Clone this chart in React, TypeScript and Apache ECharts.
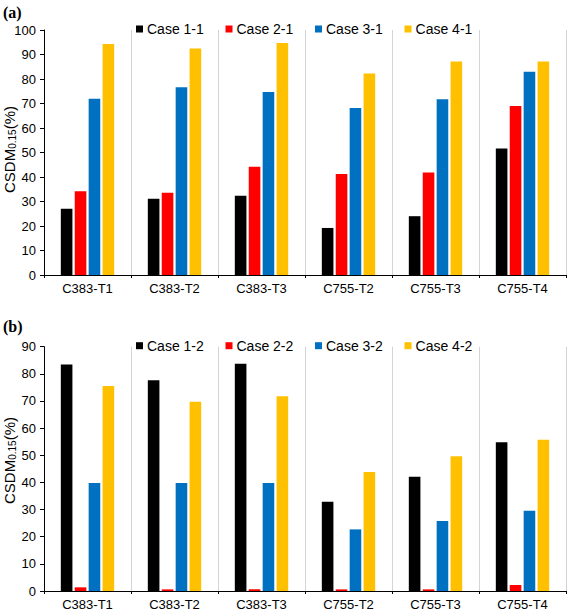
import React, { useEffect, useRef } from "react";
import * as echarts from "echarts";

const categories = ["C383-T1", "C383-T2", "C383-T3", "C755-T2", "C755-T3", "C755-T4"];

const seriesNamesA = ["Case 1-1", "Case 2-1", "Case 3-1", "Case 4-1"];
const case11 = [27.0, 31.1, 32.3, 19.2, 24.0, 51.6];
const case21 = [34.2, 33.6, 44.2, 41.2, 41.8, 69.0];
const case31 = [71.9, 76.6, 74.7, 68.2, 71.7, 83.0];
const case41 = [94.3, 92.4, 94.7, 82.2, 87.1, 87.1];

const seriesNamesB = ["Case 1-2", "Case 2-2", "Case 3-2", "Case 4-2"];
const case12 = [83.4, 77.6, 83.7, 32.9, 42.1, 54.8];
const case22 = [1.35, 0.6, 0.6, 0.6, 0.6, 2.2];
const case32 = [39.8, 39.8, 39.8, 22.7, 25.8, 29.6];
const case42 = [75.5, 69.7, 71.7, 43.8, 49.6, 55.7];

const colors = ["#000000", "#FF0000", "#0070C0", "#FFC000"];
const SANS = "'Liberation Sans', Arial, sans-serif";
const SERIF = "'Liberation Serif', 'Times New Roman', serif";

export default function App() {
  const ref = useRef<HTMLDivElement>(null);
  useEffect(() => {
    if (!ref.current) return;
    const chart = echarts.init(ref.current, null, { renderer: "svg" });
    const dataA = [case11, case21, case31, case41];
    const dataB = [case12, case22, case32, case42];

    const mkX = (gridIndex: number) => ({
      type: "category",
      gridIndex,
      data: categories,
      boundaryGap: true,
      axisLine: { lineStyle: { color: "#000", width: 1 } },
      axisTick: { show: true, length: 3, lineStyle: { color: "#000" } },
      axisLabel: { color: "#000", fontSize: 13, fontFamily: SANS, margin: 7 },
      splitLine: { show: true, lineStyle: { color: "#d4d4d4", width: 1 } },
    });
    const mkY = (gridIndex: number, max: number) => ({
      type: "value",
      gridIndex,
      min: 0,
      max,
      interval: 10,
      axisLine: { show: true, lineStyle: { color: "#000", width: 1 } },
      axisTick: { show: true, length: 4, lineStyle: { color: "#000" } },
      axisLabel: { color: "#000", fontSize: 13, fontFamily: SANS, margin: 8 },
      splitLine: { show: false },
    });
    const mkSeries = (names: string[], data: number[][], idx: number) =>
      names.map((n, i) => ({
        name: n,
        type: "bar",
        xAxisIndex: idx,
        yAxisIndex: idx,
        data: data[i],
        barWidth: 11.6,
        barGap: "20%",
        itemStyle: { color: colors[i] },
      }));
    const mkLegend = (names: string[], top: number) => ({
      data: names,
      left: 136,
      top,
      padding: 0,
      itemWidth: 7,
      itemHeight: 7,
      itemGap: 21.7,
      icon: "rect",
      textStyle: { color: "#000", fontSize: 14, fontFamily: SANS, padding: [0, 0, 0, -1] },
    });
    const yName = (y: number) => ({
      type: "text",
      x: 9,
      y,
      rotation: Math.PI / 2,
      style: {
        text: "{a|CSDM}{s|0.15}{a|(%)}",
        align: "center",
        verticalAlign: "middle",
        rich: {
          a: { fontSize: 15, fontFamily: SANS, fill: "#000", verticalAlign: "middle" },
          s: { fontSize: 10, fontFamily: SANS, fill: "#000", verticalAlign: "bottom", padding: [6, 0, 0, 0] },
        },
      },
    });

    chart.setOption({
      animation: false,
      color: colors,
      grid: [
        { left: 44, top: 30, width: 522, height: 245 },
        { left: 44, top: 346.7, width: 522, height: 244.3 },
      ],
      legend: [mkLegend(seriesNamesA, 22), mkLegend(seriesNamesB, 338.7)],
      xAxis: [mkX(0), mkX(1)],
      yAxis: [mkY(0, 100), mkY(1, 90)],
      series: [...mkSeries(seriesNamesA, dataA, 0), ...mkSeries(seriesNamesB, dataB, 1)],
      graphic: [
        { type: "text", left: 3, top: 4, style: { text: "(a)", font: `bold 16px ${SERIF}`, fill: "#000" } },
        { type: "text", left: 3, top: 318, style: { text: "(b)", font: `bold 16px ${SERIF}`, fill: "#000" } },
        yName(149.5),
        yName(460.5),
      ],
    });
    return () => chart.dispose();
  }, []);
  return (
    <div
      ref={ref}
      style={{ position: "absolute", left: 0, top: 0, width: 568, height: 613, background: "#fff" }}
    />
  );
}
